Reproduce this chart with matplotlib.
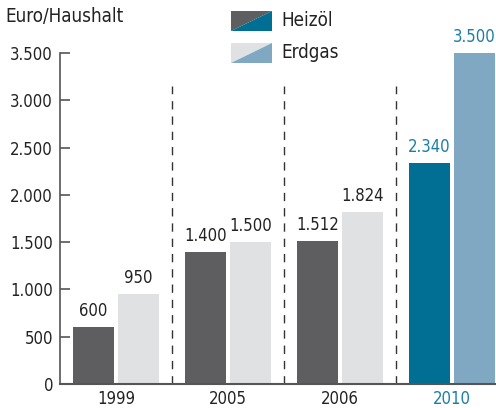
import matplotlib
matplotlib.use("Agg")
import matplotlib.pyplot as plt
from matplotlib.patches import Polygon
import numpy as np

plt.rcParams['font.family'] = ['DejaVu Sans']
plt.rcParams['font.stretch'] = 'condensed'

years = ['1999', '2005', '2006', '2010']
heizoel = [600, 1400, 1512, 2340]
erdgas = [950, 1500, 1824, 3500]
heizoel_labels = ['600', '1.400', '1.512', '2.340']
erdgas_labels = ['950', '1.500', '1.824', '3.500']
yticks = [0, 500, 1000, 1500, 2000, 2500, 3000, 3500]
ytick_labels = ['0', '500', '1.000', '1.500', '2.000', '2.500', '3.000', '3.500']

gray_dark = '#5e5e60'
gray_light = '#e0e1e3'
blue_dark = '#006f93'
blue_light = '#80a8c2'
blue_text = '#1a7fa3'
axis_col = '#555555'

fig = plt.figure(figsize=(4.96, 4.08), dpi=100)
ax = fig.add_axes([60 / 496, 1 - 384 / 408, 436 / 496, (384 - 53) / 408])

x = np.arange(len(years))
w = 0.366
off = 0.2
c_h = [gray_dark] * 3 + [blue_dark]
c_e = [gray_light] * 3 + [blue_light]
txt_c = ['#222222'] * 3 + [blue_text]

ax.bar(x - off, heizoel, w, color=c_h)
ax.bar(x + off, erdgas, w, color=c_e)

fs = 12
for i in range(len(years)):
    ax.annotate(heizoel_labels[i], (x[i] - off, heizoel[i]), xytext=(0, 5),
                textcoords='offset points', ha='center', va='bottom',
                fontsize=fs, color=txt_c[i], annotation_clip=False)
    ax.annotate(erdgas_labels[i], (x[i] + off, erdgas[i]), xytext=(0, 5),
                textcoords='offset points', ha='center', va='bottom',
                fontsize=fs, color=txt_c[i], annotation_clip=False)

for xs in [0.5, 1.5, 2.5]:
    ax.plot([xs, xs], [0, 3150], color='#333333', linestyle=(0, (6, 5)), linewidth=1)

ax.set_xlim(-0.5, 3.393)
ax.set_ylim(0, 3500)
ax.set_yticks(yticks)
ax.set_yticklabels(ytick_labels, fontsize=fs, color='#222222')
ax.set_xticks(x)
ax.set_xticklabels(years, fontsize=fs, color='#222222')
ax.get_xticklabels()[3].set_color(blue_text)
ax.tick_params(axis='y', direction='in', length=7, width=1.2, color=axis_col, pad=5)
ax.tick_params(axis='x', length=0, pad=4)
for s in ['top', 'right']:
    ax.spines[s].set_visible(False)
ax.spines['left'].set_color(axis_col)
ax.spines['bottom'].set_color(axis_col)
ax.spines['left'].set_linewidth(1.2)
ax.spines['bottom'].set_linewidth(1.5)

fig.text(5 / 496, 1 - 17 / 408, 'Euro/Haushalt', fontsize=13.5, color='#222222',
         ha='left', va='center')

# legend
def swatch(y0, c1, c2):
    x0, x1 = 231 / 496, 272 / 496
    ya, yb = 1 - y0 / 408, 1 - (y0 + 20) / 408
    fig.add_artist(Polygon([(x0, ya), (x1, ya), (x0, yb)], closed=True,
                           facecolor=c1, edgecolor='none', transform=fig.transFigure))
    fig.add_artist(Polygon([(x1, ya), (x1, yb), (x0, yb)], closed=True,
                           facecolor=c2, edgecolor='none', transform=fig.transFigure))

swatch(11, gray_dark, blue_dark)
swatch(43, gray_light, blue_light)
fig.text(281 / 496, 1 - 21 / 408, 'Heizöl', fontsize=13.5, color='#222222', ha='left', va='center')
fig.text(281 / 496, 1 - 53 / 408, 'Erdgas', fontsize=13.5, color='#222222', ha='left', va='center')

fig.savefig('out.png', dpi=100)
